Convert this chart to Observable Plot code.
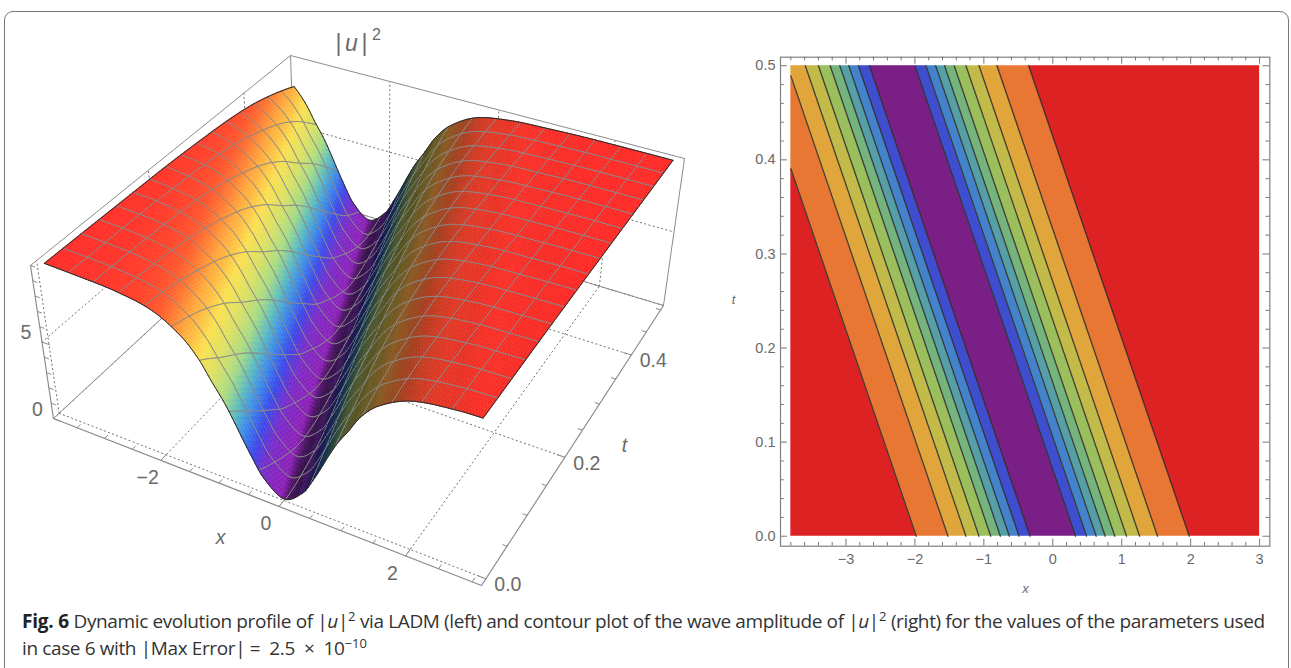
<!DOCTYPE html>
<html><head><meta charset="utf-8">
<script src="https://cdn.jsdelivr.net/npm/d3@7"></script>
<script src="https://cdn.jsdelivr.net/npm/@observablehq/plot@0.6"></script>
<style>
html,body{margin:0;padding:0;background:#fff;overflow:hidden;width:1291px;height:668px}
#frame{position:absolute;left:4px;top:10.5px;width:1285px;height:700px;border:1.5px solid #777;border-radius:9px;box-sizing:border-box}
#left,#right{position:absolute}
#left{left:0;top:0}
#right{left:725px;top:40px}
.cap{position:absolute;left:22px;white-space:nowrap;font-family:"Open Sans";font-size:19px;color:#333;letter-spacing:-.38px;line-height:20px}
.cap b{letter-spacing:-.2px;color:#222}
.cap sup{font-size:13px;line-height:0;vertical-align:7px;letter-spacing:0}
.cap i{font-style:italic}
</style></head><body>
<div id="frame"></div>
<div id="left"></div>
<div id="right"></div>
<div class="cap" style="top:611px"><b>Fig. 6</b> Dynamic evolution profile of |<i>u</i>|<sup>2</sup> via LADM (left) and contour plot of the wave amplitude of |<i>u</i>|<sup>2</sup> (right) for the values of the parameters used</div>
<div class="cap" style="top:638px">in case 6 with |Max Error| = &nbsp;2.5 &nbsp;× &nbsp;10<sup>−10</sup></div>
<script>
// ---- values ----
const profileXi = [0, 0.33, 0.49, 0.63, 0.76, 0.9, 1.07, 1.26, 1.52, 1.98, 2.6, 3.2, 4, 6.2];
const profileZ  = [0.1, 1, 2, 3, 4, 5, 6, 7.2, 8.3, 9.35, 9.8, 9.92, 10, 10];
const waveSpeed = 4.66;
const xRange = [-3.8, 3];
const tRange = [0, 0.5];
const boxX = [-3.936, 3.136], boxT = [-0.01, 0.51], boxZ = [0, 10];
const floorCorners = [[53,418],[481,585],[663,305],[295,194]];
const topCorners   = [[30,265],[488,426],[684,158],[290,55]];
const surfaceZ = [0,1,2,3,4,5,6,7.2,8.3,9.2,10];
const surfaceColors = ["#8f1fb5","#7a2cc8","#3c48ea","#3c88ea","#5cbcc0","#a8dc84","#d9e066","#fbe050","#ffa83c","#ff5a2c","#ff2a26"];
const xMajor3d = [-2, 0, 2], xMinor3d = [-3.5,-3,-2.5,-1.5,-1,-0.5,0.5,1,1.5,2.5,3];
const tMajor3d = [0, 0.2, 0.4], tMinor3d = [0.05,0.1,0.15,0.25,0.3,0.35,0.45,0.5];
const zMajor3d = [0, 5], zMinor3d = [1,2,3,4,6,7,8,9,10];
// contour plot
const contourEdges = [-1.98,-1.52,-1.26,-1.07,-0.9,-0.76,-0.63,-0.49,-0.33,0.33,0.49,0.63,0.76,0.9,1.07,1.26,1.52,1.98];
const bandColors = ["#dc2222","#e87733","#e0a63c","#c2bb4a","#9cbf5d","#75b47c","#55a0a8","#4383cc","#3e4ece","#7a1f85","#3e4ece","#4383cc","#55a0a8","#75b47c","#9cbf5d","#c2bb4a","#e0a63c","#e87733","#dc2222"];
const xTicks = [-3,-2,-1,0,1,2,3];
const tTicks = [0,0.1,0.2,0.3,0.4,0.5];
const xMinor = [-3.8,-3.6,-3.4,-3.2,-2.8,-2.6,-2.4,-2.2,-1.8,-1.6,-1.4,-1.2,-0.8,-0.6,-0.4,-0.2,0.2,0.4,0.6,0.8,1.2,1.4,1.6,1.8,2.2,2.4,2.6,2.8];
const tMinor = [0.02,0.04,0.06,0.08,0.12,0.14,0.16,0.18,0.22,0.24,0.26,0.28,0.32,0.34,0.36,0.38,0.42,0.44,0.46,0.48];
const frameX = [-3.95, 3.148], frameT = [-0.0106, 0.5091];

// ---- projection of the 3D box ----
function quad(q){
  const [[x0,y0],[x1,y1],[x2,y2],[x3,y3]] = q;
  const dx1=x1-x2,dx2=x3-x2,sx=x0-x1+x2-x3,dy1=y1-y2,dy2=y3-y2,sy=y0-y1+y2-y3;
  const den=dx1*dy2-dx2*dy1, g=(sx*dy2-dx2*sy)/den, h=(dx1*sy-sx*dy1)/den;
  const a=x1-x0+g*x1,b=x3-x0+h*x3,d=y1-y0+g*y1,e=y3-y0+h*y3;
  return (u,v)=>{const w=g*u+h*v+1;return [(a*u+b*v+x0)/w,(d*u+e*v+y0)/w];};
}
const Hf=quad(floorCorners),Ht=quad(topCorners);
function P(x,t,z){
  const u=(x-boxX[0])/(boxX[1]-boxX[0]),v=(t-boxT[0])/(boxT[1]-boxT[0]),s=(z-boxZ[0])/(boxZ[1]-boxZ[0]);
  const a=Hf(u,v),b=Ht(u,v);
  return [a[0]+(b[0]-a[0])*s,a[1]+(b[1]-a[1])*s];
}
// Hermite lookup through the table
const slopes=profileXi.map((x,i)=>{
  if(i===0) return 0;
  if(i===profileXi.length-1) return 0;
  return (profileZ[i+1]-profileZ[i-1])/(profileXi[i+1]-profileXi[i-1]);
});
function prof(xi){
  const a=Math.abs(xi);
  let i=d3.bisectRight(profileXi,a)-1; i=Math.max(0,Math.min(profileXi.length-2,i));
  const h=profileXi[i+1]-profileXi[i],s=(a-profileXi[i])/h;
  const s2=s*s,s3=s2*s;
  return (2*s3-3*s2+1)*profileZ[i]+(s3-2*s2+s)*h*slopes[i]+(-2*s3+3*s2)*profileZ[i+1]+(s3-s2)*h*slopes[i+1];
}
const surf=(x,t)=>prof(x+waveSpeed*t);
const baseColor=d3.scaleLinear().domain(surfaceZ).range(surfaceColors).interpolate(d3.interpolateRgb).clamp(true);
function shade(x,t){
  const xi=x+waveSpeed*t,z=surf(x,t);
  const c=d3.rgb(baseColor(z));
  let f=1;
  if(xi>-0.05){
    const s=Math.max(0,(prof(xi+0.04)-prof(xi-0.04))/0.08);
    const v=xi<0.25?Math.max(s,(xi+0.05)/0.3*7):s;
    f=1-0.68*(1-Math.exp(-Math.pow(v/2.6,1.1)));
  }
  return `rgb(${c.r*f|0},${c.g*f|0},${c.b*f|0})`;
}
// ---- surface features, painted back to front ----
const meshN=16,subX=10,subT=5,nx=meshN*subX,nt=meshN*subT;
const X=i=>xRange[0]+(xRange[1]-xRange[0])*i/nx, T=j=>tRange[0]+(tRange[1]-tRange[0])*j/nt;
const V=(i,j)=>P(X(i),T(j),surf(X(i),T(j)));
const feats=[];
const meshC="#8c8c8c";
function seg(a,b,col,w){feats.push({type:"Feature",geometry:{type:"LineString",coordinates:[a,b]},properties:{fill:"none",stroke:col,w}});}
for(let j=nt-1;j>=0;j--)for(let i=0;i<nx;i++){
  const p=[V(i,j),V(i+1,j),V(i+1,j+1),V(i,j+1)];
  const col=shade((X(i)+X(i+1))/2,(T(j)+T(j+1))/2);
  feats.push({type:"Feature",geometry:{type:"Polygon",coordinates:[[p[0],p[1],p[2],p[3],p[0]]]},properties:{fill:col,stroke:col,w:0.5}});
  if(j%subT===0&&j>0) seg(p[0],p[1],meshC,1);
  if((j+1)%subT===0&&j+1<nt) seg(p[3],p[2],meshC,1);
  if(i%subX===0&&i>0) seg(p[0],p[3],meshC,1);
  if((i+1)%subX===0&&i+1<nx) seg(p[1],p[2],meshC,1);
}
// outline
const edgeC="#2c2c2c";
for(let i=0;i<nx;i++){seg(V(i,0),V(i+1,0),edgeC,1);seg(V(i,nt),V(i+1,nt),edgeC,1);}
for(let j=0;j<nt;j++){seg(V(0,j),V(0,j+1),edgeC,1);seg(V(nx,j),V(nx,j+1),edgeC,1);}

// ---- box lines ----
const [x0,x1]=boxX,[t0,t1]=boxT,[z0,z1]=boxZ;
const dotted=[];
for(const t of tMajor3d){ dotted.push([P(x0,t,z0),P(x1,t,z0)]); dotted.push([P(x0,t,z0),P(x0,t,z1)]); }
for(const x of xMajor3d){ dotted.push([P(x,t0,z0),P(x,t1,z0)]); dotted.push([P(x,t1,z0),P(x,t1,z1)]); }
for(const z of zMajor3d){ dotted.push([P(x0,t0,z),P(x0,t1,z)]); dotted.push([P(x0,t1,z),P(x1,t1,z)]); }
const rows=(segs)=>segs.flatMap((s,i)=>[{id:i,x:s[0][0],y:s[0][1]},{id:i,x:s[1][0],y:s[1][1]}]);
const backBox=[
 [P(x0,t0,z0),P(x0,t1,z0)],[P(x0,t1,z0),P(x1,t1,z0)],[P(x0,t1,z0),P(x0,t1,z1)],
 [P(x0,t0,z1),P(x0,t1,z1)],[P(x0,t1,z1),P(x1,t1,z1)],[P(x1,t1,z1),P(x1,t1,z0)]];
const frontBox=[[P(x0,t0,z0),P(x1,t0,z0)],[P(x1,t0,z0),P(x1,t1,z0)],[P(x0,t0,z0),P(x0,t0,z1)]];
const dirT=(x,t,len)=>{const a=P(x,t,0),b=P(x,t+0.03,0),d=Math.hypot(b[0]-a[0],b[1]-a[1]);return [a,[a[0]+(b[0]-a[0])/d*len,a[1]+(b[1]-a[1])/d*len]];};
const dirX=(t,len)=>{const a=P(x1,t,0),b=P(x1-0.3,t,0),d=Math.hypot(b[0]-a[0],b[1]-a[1]);return [a,[a[0]+(b[0]-a[0])/d*len,a[1]+(b[1]-a[1])/d*len]];};
const dirZ=(z,len)=>{const a=P(x0,t0,z),b=P(x0+0.3,t0,z),d=Math.hypot(b[0]-a[0],b[1]-a[1]);return [a,[a[0]+(b[0]-a[0])/d*len,a[1]+(b[1]-a[1])/d*len]];};
const ticks3d=[...xMajor3d.map(x=>dirT(x,t0,8)),...xMinor3d.map(x=>dirT(x,t0,4.5)),
  ...tMajor3d.map(t=>dirX(t,8)),...tMinor3d.map(t=>dirX(t,4.5)),
  ...zMajor3d.map(z=>dirZ(z,8)),...zMinor3d.map(z=>dirZ(z,4.5))];
const labels3d=[
 ...xMajor3d.map(x=>{const p=P(x,t0,0);return {x:p[0]-13,y:p[1]+17.5,s:String(x).replace("-","\u2212")};}),
 ...tMajor3d.map(t=>{const p=P(x1,t,0);return {x:p[0]+22,y:p[1]+6,s:t.toFixed(1)};}),
 ...zMajor3d.map(z=>{const p=P(x0,t0,z);return {x:p[0]-16,y:p[1]-9,s:String(z)};})];
const gray="#6a6a6a",tf="Liberation Sans";
const leftPlot=Plot.plot({
  width:720,height:610,margin:0,
  projection:{type:"identity"},
  color:{type:"identity"},
  style:{background:"transparent"},
  marks:[
    Plot.line(rows(dotted),{x:"x",y:"y",z:"id",stroke:"#6f6f6f",strokeWidth:1,strokeDasharray:"1.2,3.2"}),
    Plot.line(rows(backBox),{x:"x",y:"y",z:"id",stroke:"#8c8c8c",strokeWidth:1}),
    Plot.geo(feats,{fill:d=>d.properties.fill,stroke:d=>d.properties.stroke,strokeWidth:d=>d.properties.w}),
    Plot.line(rows(frontBox),{x:"x",y:"y",z:"id",stroke:"#8c8c8c",strokeWidth:1.2}),
    Plot.line(rows(ticks3d),{x:"x",y:"y",z:"id",stroke:"#8c8c8c",strokeWidth:1}),
    Plot.text(labels3d,{x:"x",y:"y",text:"s",fontSize:19.5,fontFamily:tf,fill:gray}),
    Plot.text(["x"],{x:()=>220,y:()=>537,fontSize:19.5,fontFamily:tf,fontStyle:"italic",fill:gray}),
    Plot.text(["t"],{x:()=>624,y:()=>445,fontSize:19.5,fontFamily:tf,fontStyle:"italic",fill:gray}),
    Plot.text(["|"],{x:()=>338,y:()=>43,fontSize:23,fontFamily:tf,fill:gray}),
    Plot.text(["u"],{x:()=>351,y:()=>43,fontSize:23,fontFamily:tf,fontStyle:"italic",fill:gray}),
    Plot.text(["|"],{x:()=>364,y:()=>43,fontSize:23,fontFamily:tf,fill:gray}),
    Plot.text(["2"],{x:()=>376,y:()=>34,fontSize:16,fontFamily:tf,fill:gray})
  ]
});
document.getElementById("left").append(leftPlot);

// ---- contour plot ----
const clampX=x=>Math.max(xRange[0],Math.min(xRange[1],x));
const edges=[-Infinity,...contourEdges,Infinity];
const crossT=contourEdges.map(e=>(e-xRange[0])/waveSpeed).filter(t=>t>0&&t<tRange[1]);
const tBreaks=[tRange[0],...crossT,tRange[1]].sort((a,b)=>a-b);
const bandRows=bandColors.flatMap((c,i)=>tBreaks.map(t=>({band:i,color:c,t,a:clampX(edges[i]-waveSpeed*t),b:clampX(edges[i+1]-waveSpeed*t)})));
const contourRows=contourEdges.flatMap((e,i)=>{
  const tEnd=Math.min(tRange[1],(e-xRange[0])/waveSpeed);
  return [{id:i,t:tRange[0],x:e},{id:i,t:tEnd,x:e-waveSpeed*tEnd}];
});
const tickC="#777";
const rightPlot=Plot.plot({
  width:560,height:560,marginLeft:55,marginRight:15.7,marginTop:16.7,marginBottom:54.3,
  x:{domain:frameX,axis:null},y:{domain:frameT,axis:null},
  color:{type:"identity"},
  style:{background:"transparent"},
  marks:[
    Plot.area(bandRows,{x1:"a",x2:"b",y1:"t",y2:"t",z:"band",fill:"color"}),
    Plot.line(contourRows,{x:"x",y:"t",z:"id",stroke:"#2e2a28",strokeWidth:1.35,strokeOpacity:0.85}),
    Plot.ruleX(xTicks,{y1:frameT[0],y2:frameT[0]+0.0075,stroke:tickC}),
    Plot.ruleX(xMinor,{y1:frameT[0],y2:frameT[0]+0.004,stroke:tickC}),
    Plot.ruleX(xTicks,{y1:frameT[1],y2:frameT[1]-0.0075,stroke:tickC}),
    Plot.ruleX(xMinor,{y1:frameT[1],y2:frameT[1]-0.004,stroke:tickC}),
    Plot.ruleY(tTicks,{x1:frameX[0],x2:frameX[0]+0.1,stroke:tickC}),
    Plot.ruleY(tMinor,{x1:frameX[0],x2:frameX[0]+0.055,stroke:tickC}),
    Plot.ruleY(tTicks,{x1:frameX[1],x2:frameX[1]-0.1,stroke:tickC}),
    Plot.ruleY(tMinor,{x1:frameX[1],x2:frameX[1]-0.055,stroke:tickC}),
    Plot.frame({stroke:"#808080",strokeWidth:1.2}),
    Plot.axisX(xTicks,{anchor:"bottom",tickSize:0,tickPadding:7.5,label:null,fontSize:14.5,fontFamily:tf,color:gray}),
    Plot.axisY(tTicks,{anchor:"left",tickSize:0,tickPadding:5,label:null,tickFormat:".1f",fontSize:14.5,fontFamily:tf,color:gray}),
    Plot.text(["x"],{x:()=>-0.396,y:()=>-0.0556,fontSize:13,fontStyle:"italic",fontFamily:tf,fill:gray}),
    Plot.text(["t"],{x:()=>-4.63,y:()=>0.2516,fontSize:13,fontStyle:"italic",fontFamily:tf,fill:gray})
  ]
});
document.getElementById("right").append(rightPlot);
</script>
</body></html>
